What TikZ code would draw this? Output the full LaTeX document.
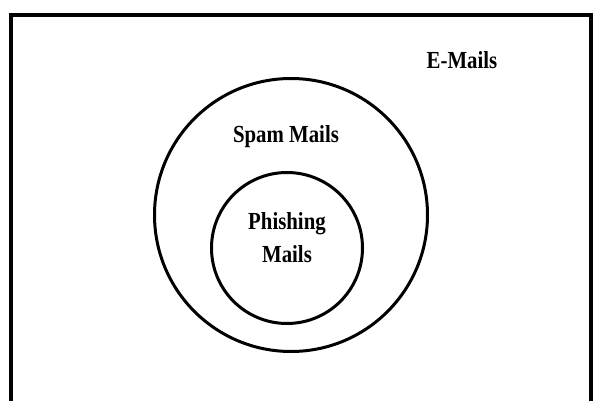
\documentclass[tikz,border=0pt]{standalone}
\usepackage{fontspec}
\newfontfamily\figfont[FakeStretch=0.85]{Liberation Serif}
\usetikzlibrary{positioning}

\begin{document}
\begin{tikzpicture}[
  x=1pt, y=-1pt,
  every node/.style={font=\figfont\bfseries\fontsize{24.5}{26}\selectfont, align=center},
  ring/.style={draw, circle, line width=3pt, inner sep=0pt}
]
\useasboundingbox (0,0) rectangle (598,401);
\clip (0,0) rectangle (598,401);

% Frame of all mails
\draw[line width=3.4pt] (11,15) rectangle (591,420);
\node (emails) at (462,60) {E-Mails};

% Sets
\node[ring, minimum size=273pt] (spam) at (291,215) {};
\node[ring, minimum size=151pt] (phishing) at (287,248) {};

% Labels
\node (spamlabel) at (286,137) {Spam Mails};
\node[text depth=0pt, inner sep=0pt] (phishinglabel) at (287,238) {Phishing\\[7pt]Mails};

\end{tikzpicture}
\end{document}
